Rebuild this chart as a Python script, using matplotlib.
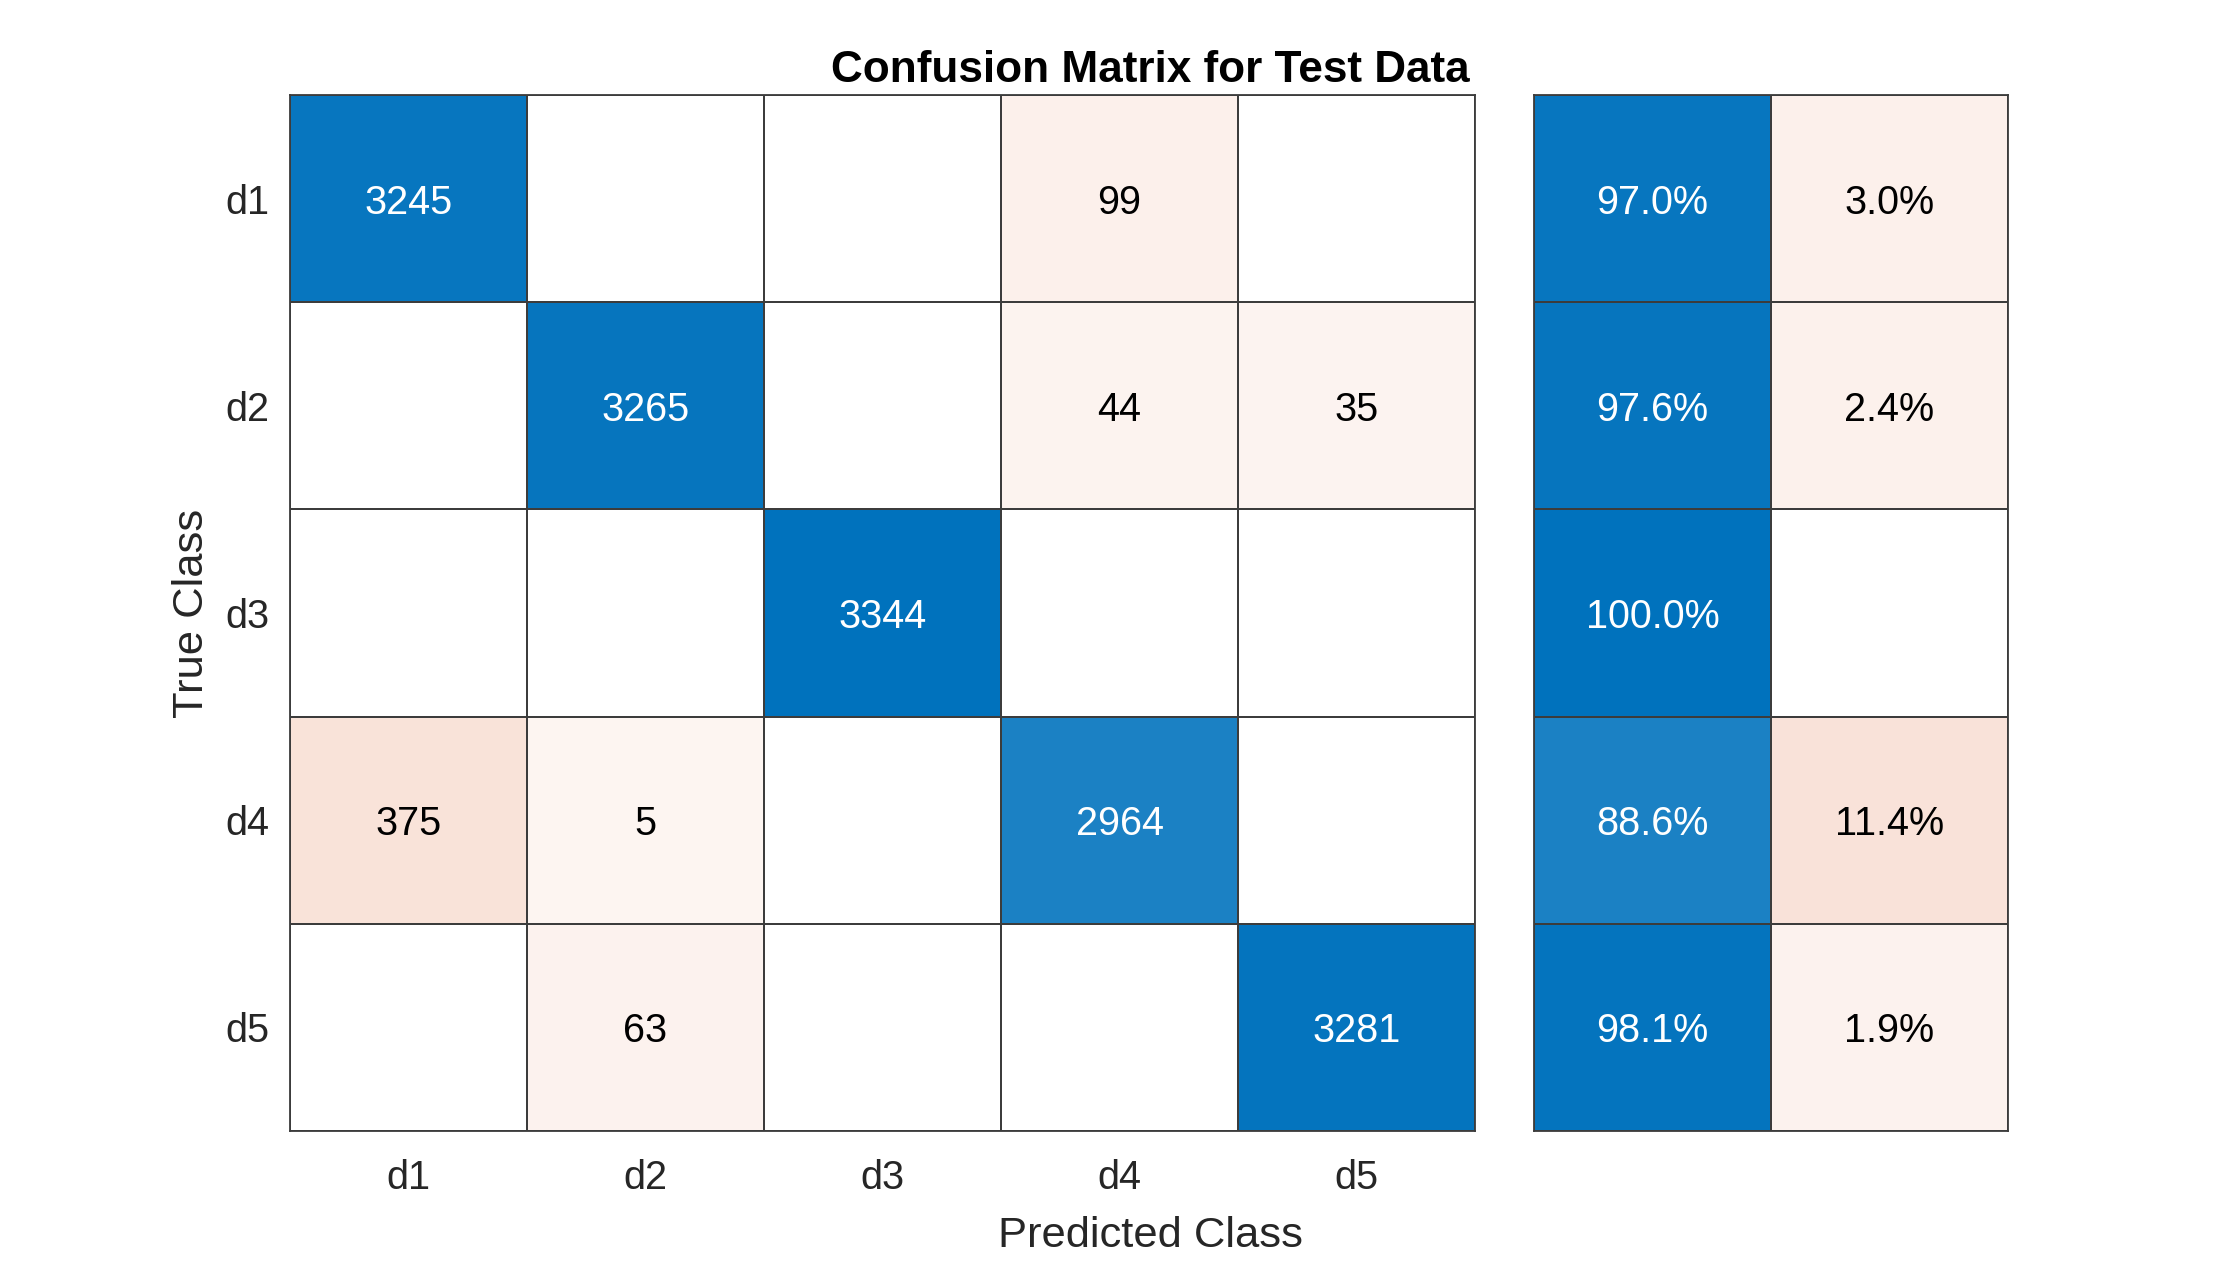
import numpy as np
import matplotlib
matplotlib.use("Agg")
import matplotlib.pyplot as plt
from matplotlib.colors import LinearSegmentedColormap, ListedColormap, Normalize

plt.rcParams['font.family'] = ['Liberation Sans', 'DejaVu Sans']

# ---- data ----
classes = ["d1", "d2", "d3", "d4", "d5"]
counts = [
    [3245, 0, 0, 99, 0],
    [0, 3265, 0, 44, 35],
    [0, 0, 3344, 0, 0],
    [375, 5, 0, 2964, 0],
    [0, 63, 0, 0, 3281],
]
row_correct_pct = [97.0, 97.6, 100.0, 88.6, 98.1]
row_incorrect_pct = [3.0, 2.4, 0.0, 11.4, 1.9]
row_totals = [3344, 3344, 3344, 3344, 3344]

title = "Confusion Matrix for Test Data"
xlabel = "Predicted Class"
ylabel = "True Class"

# ---- styles ----
BLUE = (0.0, 0.447, 0.741)
ORANGE = (0.85, 0.325, 0.098)
TINT = 0.06
EDGE = "#3c3c3c"
LW = 1.3
TXT = "#262626"
CELL_FS = 28.5
TICK_FS = 28.5
LABEL_FS = 31.3


def tinted_cmap(color, name):
    start = tuple(1 - TINT * (1 - c) for c in color)
    return LinearSegmentedColormap.from_list(name, [start, color])


cmap_diag = tinted_cmap(BLUE, "diag")
cmap_off = tinted_cmap(ORANGE, "off")
for c in (cmap_diag, cmap_off):
    c.set_bad(alpha=0)

C = np.array(counts, dtype=float)
n = len(classes)
eye = np.eye(n, dtype=bool)

fig = plt.figure(figsize=(22.2, 12.72), dpi=100)
ax = fig.add_axes([290 / 2220, 1 - 1131 / 1272, 1185 / 2220, 1036 / 1272])
ax2 = fig.add_axes([1534 / 2220, 1 - 1131 / 1272, 474 / 2220, 1036 / 1272])

white = ListedColormap(["white"])


def draw_layers(a, data, diag_mask, vmax):
    norm = Normalize(0, vmax)
    a.pcolormesh(np.zeros_like(data), cmap=white, edgecolors=EDGE, linewidth=LW)
    d = np.ma.masked_where(~diag_mask | (data == 0), data)
    o = np.ma.masked_where(diag_mask | (data == 0), data)
    a.pcolormesh(d, cmap=cmap_diag, norm=norm, edgecolors=EDGE, linewidth=LW)
    a.pcolormesh(o, cmap=cmap_off, norm=norm, edgecolors=EDGE, linewidth=LW)


# main matrix (normalize per row total)
vmax_main = float(max(row_totals))
draw_layers(ax, C, eye, vmax_main)
for i in range(n):
    for j in range(n):
        v = counts[i][j]
        if v == 0:
            continue
        t = v / row_totals[i]
        col = "white" if (i == j and t > 0.5) else "black"
        ax.text(j + 0.5, i + 0.5, f"{v}", ha="center", va="center_baseline",
                color=col, fontsize=CELL_FS)

ax.set_xlim(0, n)
ax.set_ylim(n, 0)
ax.set_xticks(np.arange(n) + 0.5)
ax.set_xticklabels(classes)
ax.set_yticks(np.arange(n) + 0.5)
ax.set_yticklabels(classes)
ax.tick_params(axis="both", length=0, labelsize=TICK_FS, colors=TXT)
ax.tick_params(axis="x", pad=20)
ax.tick_params(axis="y", pad=15)
for lbl in ax.get_yticklabels():
    lbl.set_va("center_baseline")

# row summary panel
P = np.array([row_correct_pct, row_incorrect_pct], dtype=float).T
pmask = np.zeros_like(P, dtype=bool)
pmask[:, 0] = True
draw_layers(ax2, P, pmask, 100.0)
for i in range(n):
    for j in range(2):
        v = P[i, j]
        if v == 0:
            continue
        col = "white" if (j == 0 and v > 50) else "black"
        ax2.text(j + 0.5, i + 0.5, f"{v:.1f}%", ha="center", va="center_baseline",
                 color=col, fontsize=CELL_FS)
ax2.set_xlim(0, 2)
ax2.set_ylim(n, 0)
ax2.set_xticks([])
ax2.set_yticks([])

for a in (ax, ax2):
    for s in a.spines.values():
        s.set_color(EDGE)
        s.set_linewidth(LW)

fig.text(1150 / 2220, 1 - 82 / 1272, title, ha="center", va="baseline",
         fontsize=31.8, fontweight="bold", color="black")
fig.text(1150 / 2220, 1 - 1247 / 1272, xlabel, ha="center", va="baseline",
         fontsize=LABEL_FS, color=TXT)
fig.text(192 / 2220, 1 - 613 / 1272, ylabel, ha="center", va="center",
         rotation=90, fontsize=LABEL_FS, color=TXT)

fig.savefig("out.png", dpi=100, facecolor="white")
